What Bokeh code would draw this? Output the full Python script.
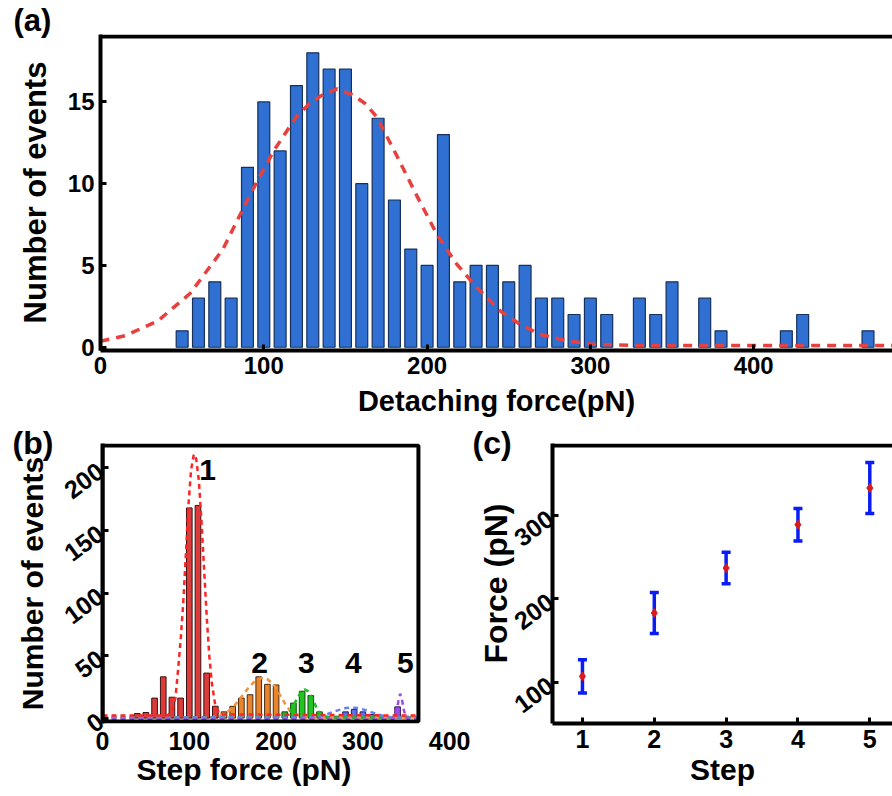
from bokeh.plotting import figure
from bokeh.models import (Range1d, Whisker, TeeHead, ColumnDataSource, Span,
                          BoxAnnotation, Title)
from bokeh.layouts import column, row
from bokeh.embed import file_html
from bokeh.resources import INLINE
from bokeh.core.properties import value

# ---------------- data: panel (a) ----------------
a_force = [50, 60, 70, 80, 90, 100, 110, 120, 130, 140, 150, 160, 170, 180, 190,
           200, 210, 220, 230, 240, 250, 260, 270, 280, 290, 300, 310, 330, 340,
           350, 370, 380, 420, 430, 470]
a_count = [1, 3, 4, 3, 11, 15, 12, 16, 18, 17, 17, 10, 14, 9, 6,
           5, 13, 4, 5, 5, 4, 5, 3, 3, 2, 3, 2, 3, 2,
           4, 3, 1, 1, 2, 1]
a_fit_force = [0, 15, 35, 55, 75, 92, 106, 120, 128, 137, 145, 155, 162, 169, 181,
               193, 206, 218, 230, 245, 257, 269, 285, 300, 330, 485]
a_fit_count = [0.37, 0.7, 1.6, 3.3, 6.0, 9.4, 12.0, 14.1, 14.9, 15.5, 15.8, 15.4, 14.9, 14.1, 11.8,
               9.4, 6.9, 5.1, 3.7, 2.2, 1.4, 0.8, 0.4, 0.2, 0.1, 0.1]
a_xticks = [0, 100, 200, 300, 400]
a_yticks = [0, 5, 10, 15]

# ---------------- data: panel (b) ----------------
b1_force = [40, 50, 60, 70, 80, 90, 100, 110, 120, 130]
b1_count = [3.7, 4.5, 16, 33, 16.7, 16, 168, 170, 36, 9.5]
b2_force = [140, 150, 160, 170, 180, 190, 200]
b2_count = [5, 9.4, 16, 18.7, 33, 27, 26.5]
b3_force = [210, 220, 230, 240, 250]
b3_count = [5, 12, 21.5, 18, 5]
b4_force = [260, 270, 280, 290, 300, 310, 320, 330]
b4_count = [1.5, 1.5, 5, 7, 5, 3, 1.5, 1]
b5_force = [340, 350]
b5_count = [9, 1.5]

fit1_x = [0, 75, 80, 84, 87, 90, 93, 96, 99, 102, 105, 106, 108, 111, 114, 117, 120, 123, 126, 130, 135, 364]
fit1_y = [2, 2, 6, 16, 38, 62, 92, 130, 170, 198, 210, 211, 207, 190, 158, 120, 82, 50, 28, 10, 3, 2]
fit2_x = [0, 125, 135, 145, 152, 160, 168, 176, 183, 190, 197, 204, 210, 216, 223, 232, 364]
fit2_y = [0.5, 0.5, 2, 5.5, 10, 17, 24, 30, 32, 31, 27, 19, 12, 6, 2.5, 0.5, 0.5]
fit3_x = [0, 205, 212, 218, 223, 228, 233, 238, 243, 248, 253, 260, 364]
fit3_y = [0.5, 0.5, 2, 7, 14, 20, 23, 21, 14, 6, 2, 0.5, 0.5]
fit4_x = [0, 240, 250, 260, 270, 280, 287, 295, 305, 315, 325, 335, 364]
fit4_y = [0.5, 0.5, 1.5, 3.5, 6, 8, 8.5, 8, 6, 3.5, 1.5, 0.5, 0.5]
fit5_x = [0, 334, 337, 339, 341, 343, 345, 347, 349, 352, 364]
fit5_y = [-1.2, -1.2, 0.5, 5, 14, 19.5, 15, 7, 2, -1.2, -1.2]

peak_names = ["1", "2", "3", "4", "5"]
b_xticks = [0, 100, 200, 300, 400]
b_yticks = [0, 50, 100, 150, 200]
b_xmax = 364          # right edge of the plotted box
b_ymin, b_ymax = -2.7, 218

# ---------------- data: panel (c) ----------------
c_step = [1, 2, 3, 4, 5]
c_force = [107, 183, 237, 289, 333]
c_err = [20, 24.5, 19, 19.5, 30.5]
c_xticks = [1, 2, 3, 4, 5]
c_yticks = [100, 200, 300]

FONT = "Liberation Sans"


def style_axis(ax, tick_size, title_size):
    ax.axis_line_width = 4
    ax.axis_line_color = "black"
    ax.major_tick_in = 6
    ax.major_tick_out = 0
    ax.major_tick_line_width = 3
    ax.minor_tick_line_color = None
    ax.major_label_text_font = FONT
    ax.major_label_text_font_style = "bold"
    ax.major_label_text_font_size = tick_size
    ax.major_label_text_color = "black"
    ax.axis_label_text_font = FONT
    ax.axis_label_text_font_style = "bold"
    ax.axis_label_text_font_size = title_size
    ax.axis_label_text_color = "black"


def panel_tag(p, text, offset, standoff, size):
    p.title.text = text
    p.title.align = "left"
    p.title.offset = offset
    p.title.vertical_align = "bottom"
    p.title.standoff = standoff
    p.title.text_font = FONT
    p.title.text_font_style = "bold"
    p.title.text_font_size = size
    p.title.text_color = "black"


# ---------------- panel (a) ----------------
pa = figure(width=892, height=425, x_range=Range1d(0, 485), y_range=Range1d(-0.2, 19.12),
            output_backend="svg", toolbar_location=None,
            min_border_left=100, min_border_right=0, min_border_top=34, min_border_bottom=75)
pa.outline_line_color = None
pa.grid.visible = False
pa.vbar(x=a_force, top=a_count, bottom=0, width=7.3,
        fill_color="#2f70d2", line_color="#16305c", line_width=1.2)
pa.line(a_fit_force, a_fit_count, line_color="#e8403f", line_width=3.5, line_dash="9 7")
pa.add_layout(Span(location=19.0, dimension="width", line_color="black", line_width=4))
pa.xaxis.ticker = a_xticks
pa.yaxis.ticker = a_yticks
pa.xaxis.axis_label = "Detaching force(pN)"
pa.yaxis.axis_label = "Number of events"
style_axis(pa.xaxis[0], "24px", "29px")
style_axis(pa.yaxis[0], "24px", "31px")
pa.xaxis.major_label_standoff = 6
pa.yaxis.major_label_standoff = 6
pa.xaxis.axis_label_standoff = 8
pa.yaxis.axis_label_standoff = 12
panel_tag(pa, "(a)", -87, -6, "31px")

# ---------------- panel (b) ----------------
pb = figure(width=471, height=371, x_range=Range1d(0, 424), y_range=Range1d(-4.3, 219.5),
            output_backend="svg", toolbar_location=None,
            min_border_left=102, min_border_right=1, min_border_top=17, min_border_bottom=72)
pb.outline_line_color = None
pb.grid.visible = False
bw = 6.5
pb.vbar(x=b1_force, top=b1_count, bottom=0, width=bw, fill_color="#dc3b3b", line_color="#3a1010", line_width=1)
pb.vbar(x=b2_force, top=b2_count, bottom=0, width=bw, fill_color="#e8842c", line_color="#4a2a10", line_width=1)
pb.vbar(x=b3_force, top=b3_count, bottom=0, width=bw, fill_color="#22c422", line_color="#0e4a0e", line_width=1)
pb.vbar(x=b4_force, top=b4_count, bottom=0, width=bw, fill_color="#5c6ee8", line_color="#1c2260", line_width=1)
pb.vbar(x=b5_force, top=b5_count, bottom=0, width=bw, fill_color="#9b4de6", line_color="#3a1a60", line_width=1)
pb.line(fit2_x, fit2_y, line_color="#f0923a", line_width=2.5, line_dash="5 4")
pb.line(fit3_x, fit3_y, line_color="#1fbb1f", line_width=2.5, line_dash="5 4")
pb.line(fit4_x, fit4_y, line_color="#6a7ff0", line_width=2.5, line_dash="5 4")
pb.line(fit5_x, fit5_y, line_color="#9b4de6", line_width=2.5, line_dash="5 4")
pb.line(fit1_x, fit1_y, line_color="#ff2424", line_width=2.5, line_dash="5 4")
peak_x = [121, 181, 235, 289, 349]
peak_y = [198, 44, 44, 44, 44]
pb.text(x=peak_x, y=peak_y, text=peak_names, text_font=value(FONT), text_font_style="bold",
        text_font_size="30px", text_align="center", text_baseline="middle", text_color="black")
pb.add_layout(BoxAnnotation(left=0, right=b_xmax, bottom=b_ymin, top=b_ymax,
                            fill_alpha=0, line_color="black", line_alpha=1, line_width=4))
pb.xaxis.ticker = b_xticks
pb.yaxis.ticker = b_yticks
pb.yaxis.axis_label = "Number of events"
style_axis(pb.xaxis[0], "25px", "30px")
style_axis(pb.yaxis[0], "25px", "30px")
pb.xaxis.axis_line_color = None
pb.xaxis.major_tick_line_color = None
pb.yaxis.major_label_orientation = 0.64
pb.xaxis.major_label_standoff = 8
pb.yaxis.major_label_standoff = 2
pb.yaxis.axis_label_standoff = 4
pb.add_layout(Title(text="Step force (pN)", align="left", offset=34, vertical_align="top",
                    standoff=0, text_font=FONT, text_font_style="bold",
                    text_font_size="30px", text_color="black"), "below")
panel_tag(pb, "(b)", -90, -35, "32px")

# ---------------- panel (c) ----------------
pc = figure(width=421, height=371, x_range=Range1d(0.583, 5.316), y_range=Range1d(50.4, 386.4),
            output_backend="svg", toolbar_location=None,
            min_border_left=81, min_border_right=0, min_border_top=18, min_border_bottom=73)
pc.outline_line_color = None
pc.grid.visible = False
src = ColumnDataSource(dict(step=c_step, force=c_force,
                            upper=[f + e for f, e in zip(c_force, c_err)],
                            lower=[f - e for f, e in zip(c_force, c_err)]))
blue = "#0a1cf5"
wh = Whisker(source=src, base="step", upper="upper", lower="lower", dimension="height",
             line_color=blue, line_width=3.5,
             upper_head=TeeHead(size=9, line_color=blue, line_width=3.5),
             lower_head=TeeHead(size=9, line_color=blue, line_width=3.5))
pc.add_layout(wh)
pc.scatter(x="step", y="force", source=src, marker="diamond", size=9,
           fill_color="#d81b1b", line_color="#d81b1b")
pc.add_layout(Span(location=384, dimension="width", line_color="black", line_width=4))
pc.xaxis.ticker = c_xticks
pc.yaxis.ticker = c_yticks
pc.xaxis.axis_label = "Step"
pc.yaxis.axis_label = "Force (pN)"
style_axis(pc.xaxis[0], "25px", "30px")
style_axis(pc.yaxis[0], "25px", "32px")
pc.yaxis.major_label_orientation = 0.64
pc.xaxis.major_label_standoff = 6
pc.yaxis.major_label_standoff = 2
pc.xaxis.axis_label_standoff = 2
pc.yaxis.axis_label_standoff = -11
panel_tag(pc, "(c)", -80, -35, "32px")

layout = column(pa, row(pb, pc))
open("out.html", "w").write(file_html(layout, INLINE))
